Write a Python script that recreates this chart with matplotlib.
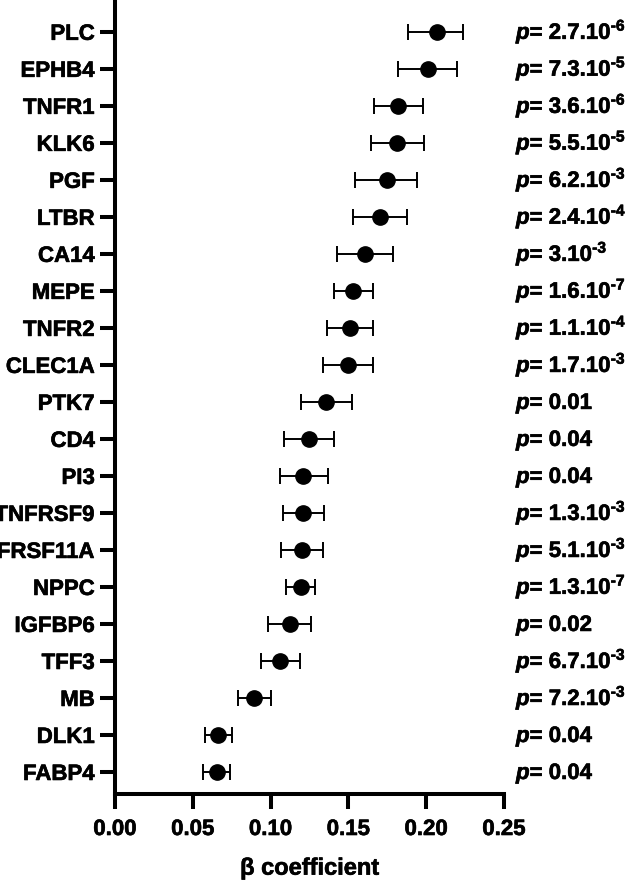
import matplotlib
matplotlib.use("Agg")
import matplotlib.pyplot as plt
import matplotlib.transforms as mtransforms
import matplotlib.patheffects as pe

plt.rcParams['font.family'] = ['Liberation Sans', 'DejaVu Sans']
plt.rcParams['font.weight'] = 'bold'
plt.rcParams['mathtext.fontset'] = 'custom'
plt.rcParams['mathtext.it'] = 'Liberation Sans:italic:bold'
plt.rcParams['mathtext.rm'] = 'Liberation Sans:bold'
plt.rcParams['mathtext.bf'] = 'Liberation Sans:bold'

genes = ["PLC", "EPHB4", "TNFR1", "KLK6", "PGF", "LTBR", "CA14", "MEPE",
         "TNFR2", "CLEC1A", "PTK7", "CD4", "PI3", "TNFRSF9", "TNFRSF11A",
         "NPPC", "IGFBP6", "TFF3", "MB", "DLK1", "FABP4"]
beta = [0.2067, 0.2014, 0.1820, 0.1815, 0.1746, 0.1703, 0.1607, 0.1528,
        0.1510, 0.1500, 0.1356, 0.1249, 0.1210, 0.1210, 0.1200,
        0.1193, 0.1125, 0.1060, 0.0893, 0.0664, 0.0653]
ci_low = [0.1885, 0.1820, 0.1665, 0.1643, 0.1542, 0.1532, 0.1429, 0.1410,
          0.1360, 0.1335, 0.1195, 0.1088, 0.1060, 0.1082, 0.1065,
          0.1099, 0.0985, 0.0938, 0.0789, 0.0578, 0.0568]
ci_high = [0.2238, 0.2200, 0.1977, 0.1986, 0.1943, 0.1879, 0.1785, 0.1656,
           0.1656, 0.1660, 0.1521, 0.1410, 0.1371, 0.1343, 0.1339,
           0.1285, 0.1260, 0.1189, 0.1000, 0.0750, 0.0739]
p_mant = ["2.7", "7.3", "3.6", "5.5", "6.2", "2.4", "3", "1.6",
          "1.1", "1.7", "0.01", "0.04", "0.04", "1.3", "5.1",
          "1.3", "0.02", "6.7", "7.2", "0.04", "0.04"]
p_exp = ["-6", "-5", "-6", "-5", "-3", "-4", "-3", "-7",
         "-4", "-3", None, None, None, "-3", "-3",
         "-7", None, "-3", "-3", None, None]
xticks = [0.00, 0.05, 0.10, 0.15, 0.20, 0.25]

n = len(genes)
ypos = [n - i for i in range(n)]
xerr = [[b - l for b, l in zip(beta, ci_low)], [h - b for b, h in zip(beta, ci_high)]]

heavy = [pe.withStroke(linewidth=0.45, foreground='black')]

fig = plt.figure(figsize=(6.3, 8.81), dpi=100)
ax = fig.add_axes([115/630, 87/881, 389/630, 794/881])

ax.errorbar(beta, ypos, xerr=xerr, fmt='o', color='black', ms=11,
            elinewidth=1.4, capsize=5.5, capthick=1.4, zorder=3)

ax.set_xlim(0, 0.25)
ax.set_ylim(0.405, 21.86)
ax.set_xticks(xticks)
ax.set_xticklabels([f"{t:.2f}" for t in xticks])
ax.set_yticks(ypos)
ax.set_yticklabels(genes)

for s in ['top', 'right']:
    ax.spines[s].set_visible(False)
for s in ['left', 'bottom']:
    ax.spines[s].set_linewidth(2.9)

ax.tick_params(axis='both', which='major', length=11, width=2.9, labelsize=16)
ax.tick_params(axis='y', pad=3.5)
ax.tick_params(axis='x', pad=7)
for lab in ax.get_xticklabels() + ax.get_yticklabels():
    lab.set_fontweight('bold')
    lab.set_path_effects(heavy)

ax.set_xlabel("β coefficient", fontsize=17, fontweight='bold', labelpad=12,
              path_effects=heavy)

trans = mtransforms.blended_transform_factory(ax.transAxes, ax.transData)
for y, m, e in zip(ypos, p_mant, p_exp):
    if e is None:
        s = r"$p$= " + m
    else:
        s = r"$p$= " + m + ".10" + r"$^{\text{" + e + "}}$"
    ax.text(401/389, y - 0.19, s, transform=trans, ha='left', va='baseline',
            fontsize=16, fontweight='bold', clip_on=False, path_effects=heavy)

fig.savefig("out.png", dpi=100)
